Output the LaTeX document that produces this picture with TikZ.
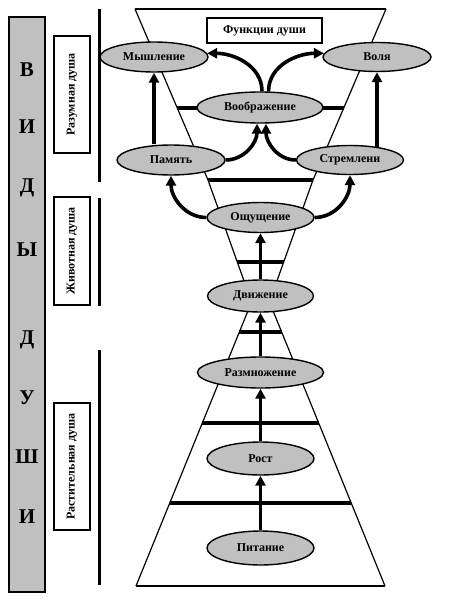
\documentclass[tikz,border=0pt]{standalone}
\usepackage{fontspec}
\setmainfont{Liberation Serif}
\usetikzlibrary{shapes.geometric,arrows.meta,calc}
\definecolor{sgray}{HTML}{C0C0C0}
\begin{document}
\begin{tikzpicture}[x=1pt,y=1pt,
  func/.style={ellipse,draw,line width=1.4pt,fill=sgray,inner sep=0pt,
    font=\fontsize{12}{12}\selectfont\bfseries},
  arr/.style={line width=3.6pt,-{Triangle[length=10pt,width=10pt]}},
  hbar/.style={line width=3.4pt},
  side/.style={line width=1.2pt},
  vline/.style={line width=3pt},
  lbox/.style={draw,line width=1.4pt,fill=white,rotate=90,inner sep=0pt,
    font=\fontsize{12}{12}\selectfont\bfseries},
  tbox/.style={draw,line width=1.4pt,fill=white,inner sep=0pt,
    font=\fontsize{12}{12}\selectfont\bfseries},
  letter/.style={font=\fontsize{21}{21}\selectfont\bfseries}]
\useasboundingbox (0,0) rectangle (452,-602);

% left grey bar with letters
\draw[line width=1.5pt,fill=sgray] (9,-17) rectangle (45,-592);
\foreach \l/\y in {В/70,И/127,Д/188,Ы/250,Д/340,У/398,Ш/457,И/517}
  \node[letter] at (27,-\y) {\l};

% label boxes
\node[lbox,minimum width=117pt,minimum height=36pt] (b1) at (72,-94.5) {Разумная душа};
\node[lbox,minimum width=108pt,minimum height=36pt] (b2) at (72,-251) {Животная душа};
\node[lbox,minimum width=127pt,minimum height=36pt] (b3) at (72,-466.5) {Растительная душа};

% vertical lines
\draw[vline] (99,-9) -- (99,-182);
\draw[vline] (99,-198) -- (99,-306);
\draw[vline] (99,-350) -- (99,-585);

% hourglass
\draw[line width=1.5pt] (135,-9) -- (386,-9);
\draw[side] (135,-9) -- (208,-180) -- (248,-292);
\draw[side] (386,-9) -- (313,-180) -- (273,-292);
\draw[side] (254,-296) -- (136,-586);
\draw[side] (267,-296) -- (385,-586);
\draw[line width=2pt] (136,-586) -- (385,-586);
\draw[hbar] (177.3,-108) -- (343.7,-108);
\draw[hbar] (208,-180) -- (313,-180);
\draw[hbar] (237.3,-262) -- (283.7,-262);
\draw[hbar] (239.4,-332) -- (281.6,-332);
\draw[hbar] (202.3,-423) -- (318.7,-423);
\draw[hbar] (169.8,-503) -- (351.2,-503);

% title box
\node[tbox,minimum width=115pt,minimum height=25pt] (title) at (264.5,-30.5) {Функции души};

% function ellipses
\node[func,minimum width=108pt,minimum height=30pt] (mysh) at (154,-57) {Мышление};
\node[func,minimum width=108pt,minimum height=29pt] (volya) at (377,-57) {Воля};
\node[func,minimum width=126pt,minimum height=31pt] (voob) at (260,-107.5) {Воображение};
\node[func,minimum width=108pt,minimum height=30pt] (pam) at (171,-160) {Память};
\node[func,minimum width=107pt,minimum height=29pt] (strem) at (350,-160) {Стремлени};
\node[func,minimum width=107pt,minimum height=30pt] (osch) at (260.5,-217.5) {Ощущение};
\node[func,minimum width=106pt,minimum height=32pt] (dvizh) at (260.5,-296) {Движение};
\node[func,minimum width=126pt,minimum height=31pt] (razm) at (260.5,-372.5) {Размножение};
\node[func,minimum width=107pt,minimum height=33pt] (rost) at (260.5,-458.5) {Рост};
\node[func,minimum width=107pt,minimum height=34pt] (pit) at (260.5,-548) {Питание};

% arrows
\draw[arr] (mysh.south |- pam.north) -- (mysh.south);
\draw[arr] ([yshift=-2pt]volya.south |- strem.north) -- (volya.south);
\draw[arr] (voob.83) to[out=90,in=0] (mysh.4);
\draw[arr] (voob.62) to[out=90,in=180] (volya.176);
\draw[arr] (pam.east) to[out=0,in=-90] ([xshift=-3pt]voob.south);
\draw[arr] (strem.west) to[out=180,in=-90] ([xshift=6pt]voob.south);
\draw[arr] (osch.west) to[out=180,in=-90] (pam.south);
\draw[arr] (osch.east) to[out=0,in=-90] (strem.south);
\draw[arr] (dvizh.north) -- (osch.south);
\draw[arr] (razm.north) -- (dvizh.south);
\draw[arr] (rost.north) -- (razm.south);
\draw[arr] (pit.north) -- (rost.south);
\end{tikzpicture}
\end{document}
